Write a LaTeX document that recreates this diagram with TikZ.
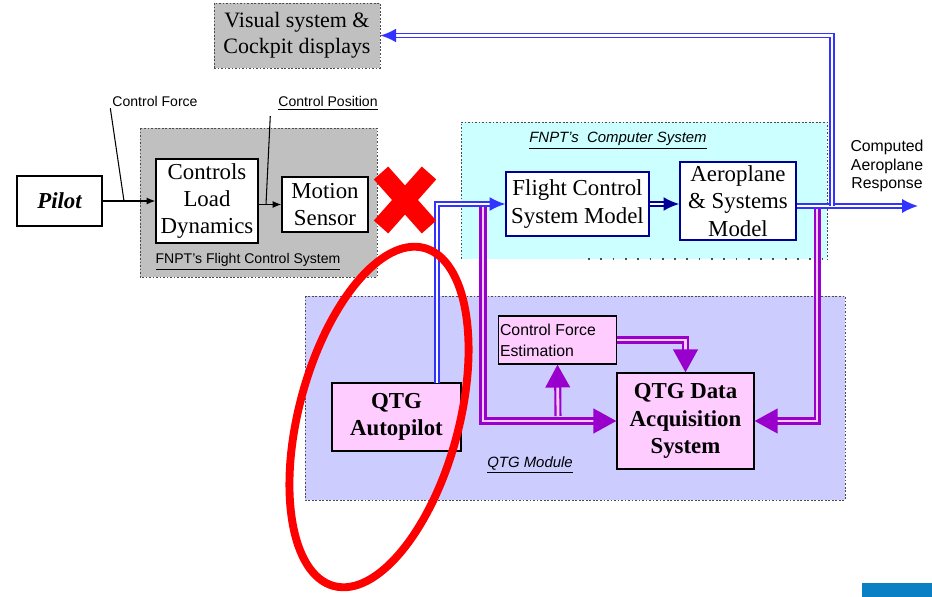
\documentclass[tikz,border=0pt]{standalone}
\usepackage{fontspec}
\setmainfont{Liberation Serif}
\setsansfont{Liberation Sans}
\usetikzlibrary{arrows.meta}
\definecolor{fcsgray}{HTML}{C0C0C0}
\definecolor{compcyan}{HTML}{CCFFFF}
\definecolor{qtglav}{HTML}{CCCCFF}
\definecolor{boxpink}{HTML}{FFCCFF}
\definecolor{linkblue}{HTML}{3333FF}
\definecolor{linknavy}{HTML}{000099}
\definecolor{linkpurp}{HTML}{9900CC}
\definecolor{slideblue}{HTML}{0A7FC4}
\begin{document}
\begin{tikzpicture}[x=0.02cm, y=-0.02cm,
  serifbox/.style={draw=black, fill=white, line width=0.8pt, inner sep=1pt, align=center,
    font=\fontsize{13}{15.5}\selectfont},
  qtgbox/.style={serifbox, fill=boxpink, font=\fontsize{13}{15.5}\selectfont\bfseries},
  areabox/.style={draw=black!70, line width=0.5pt, dash pattern=on 1pt off 1pt},
  smalllab/.style={font=\sffamily\fontsize{8}{9.5}\selectfont, inner sep=1pt, align=center},
  bluearr/.style={draw=linkblue, double=white, double distance=1.5pt, line width=0.9pt,
    -{Latex[length=9pt,width=8pt]}},
  navyarr/.style={draw=linknavy, double=white, double distance=1.2pt, line width=1.1pt,
    -{Latex[length=9pt,width=8pt]}},
  purparr/.style={draw=linkpurp, double=boxpink, double distance=1.6pt, line width=1.2pt,
    -{Triangle[length=13pt,width=14pt]}},
  thinarr/.style={draw=black, line width=0.6pt, -{Latex[length=5pt,width=4pt]}}]
  \useasboundingbox (0,0) rectangle (932,597);

  % shaded areas
  \fill[fcsgray] (140,128) rectangle (377,277);
  \draw[areabox] (140,128) rectangle (377,277);
  \fill[compcyan] (461,122) rectangle (827,259);
  \draw[areabox] (461,259) -- (461,122) -- (827,122) -- (827,259);
  \draw[black!70, line width=0.8pt, dash pattern=on 1pt off 6pt] (588,259) -- (827,259);
  \fill[qtglav] (305,296) rectangle (845,500);
  \draw[areabox] (305,296) rectangle (845,500);

  \node[smalllab] (fcslab) at (248,262) {\underline{FNPT's Flight Control System}};
  \node[smalllab, font=\sffamily\itshape\fontsize{8.5}{10}\selectfont] (complab) at (618,141) {\underline{FNPT's\ \ Computer System}};
  \node[smalllab, font=\sffamily\itshape\fontsize{8.5}{10}\selectfont] (qtglab) at (530,465) {\underline{QTG Module}};

  % blocks
  \node[serifbox, fill=fcsgray, draw=black!70, line width=0.5pt, dash pattern=on 1pt off 1pt,
    minimum width=3.32cm, minimum height=1.3cm, font=\fontsize{12.5}{15}\selectfont] (vis) at (297,35.5) {Visual system \&\\Cockpit displays};
  \node[serifbox, minimum width=1.7cm, minimum height=1.0cm, font=\fontsize{13}{15.5}\selectfont\bfseries\itshape] (pilot) at (59.5,201) {Pilot};
  \node[serifbox, minimum width=2.04cm, minimum height=1.68cm] (cld) at (207,201) {Controls\\Load\\Dynamics};
  \node[serifbox, minimum width=1.72cm, minimum height=1.1cm] (ms) at (325,204.5) {Motion\\Sensor};
  \node[serifbox, draw=linknavy, minimum width=2.86cm, minimum height=1.28cm] (fcsm) at (577.5,204) {Flight Control\\System Model};
  \node[serifbox, draw=linknavy, minimum width=2.32cm, minimum height=1.56cm] (asm) at (738,201) {Aeroplane\\\& Systems\\Model};
  \node[qtgbox, minimum width=2.58cm, minimum height=1.36cm] (ap) at (396.5,417) {QTG\\Autopilot};
  \node[serifbox, fill=boxpink, minimum width=2.26cm, minimum height=0.96cm, align=left,
    font=\sffamily\fontsize{9}{12}\selectfont] (cfe) at (557.5,340) {Control Force\\Estimation\hspace*{2.6em}};
  \node[qtgbox, minimum width=2.74cm, minimum height=1.92cm] (das) at (685.5,421) {QTG Data\\Acquisition\\System};
  \node[smalllab, font=\sffamily\fontsize{9}{10.5}\selectfont] (resplab) at (887,166) {Computed\\Aeroplane\\Response};

  % pilot side
  \node[smalllab] (cflab) at (155,101) {Control Force};
  \node[smalllab] (cplab) at (328,103) {\underline{Control Position}};
  \coordinate (cfpt) at (124,201);
  \coordinate (cppt) at (266,204.5);
  \draw[thinarr] (pilot.east) -- (cld.west);
  \draw[thinarr] (cld.east |- ms.west) -- (ms.west);
  \draw[line width=0.6pt] (cflab.south west) -- (cfpt);
  \draw[line width=0.6pt] (cplab.south west) ++(-6,4) -- (cppt);

  % computer links
  \coordinate (apout) at (437,383);
  \coordinate (tapl) at (483,204);
  \coordinate (tapr) at (817,206);
  \coordinate (tapv) at (832,206);
  \coordinate (respend) at (918,206);
  \coordinate (cfebr) at (558,416);
  \draw[purparr] (tapl) |- (das.west);
  \draw[purparr] (cfebr) -- (cfe.south);
  \draw[purparr] (cfe.east) -| (das.north);
  \draw[purparr] (tapr) |- (das.east);
  \draw[bluearr] (apout) |- (fcsm.west);
  \draw[navyarr] (fcsm.east) -- (asm.west |- fcsm.east);
  \draw[bluearr] (asm.east |- respend) -- (respend);
  \draw[bluearr] (tapv) |- (vis.east);

  % red marks
  \draw[red, line width=11pt] (381,173) -- (429,227);
  \draw[red, line width=11pt] (429,173) -- (381,227);
  \draw[red, line width=4.5pt, rotate around={-15:(379,417)}] (379,417) ellipse [x radius=1.6cm, y radius=3.5cm];

  \fill[slideblue] (862,583) rectangle (932,597);
\end{tikzpicture}
\end{document}
